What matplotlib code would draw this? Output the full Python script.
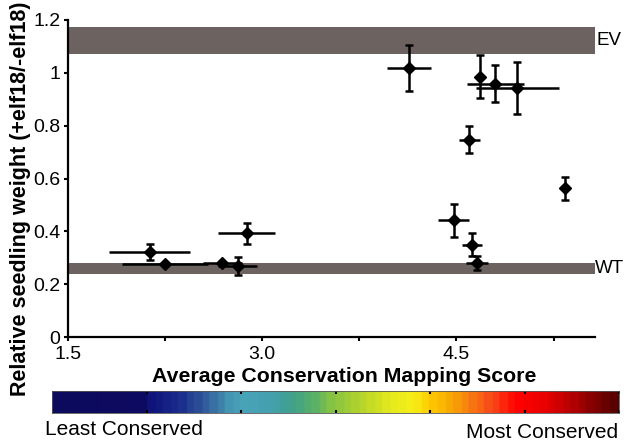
import numpy as np
import matplotlib
matplotlib.use("Agg")
import matplotlib.pyplot as plt
from matplotlib.colors import LinearSegmentedColormap, ListedColormap

plt.rcParams['font.family'] = ['Liberation Sans', 'DejaVu Sans']

# ---- data ----
cons_score = [4.13, 4.68, 4.80, 4.97, 4.60, 5.34, 4.48, 4.62, 4.66, 2.13, 2.25, 2.69, 2.81, 2.88]
rel_weight = [1.018, 0.985, 0.958, 0.943, 0.746, 0.563, 0.442, 0.350, 0.280, 0.322, 0.278, 0.279, 0.268, 0.392]
score_err = [0.17, 0.0, 0.22, 0.32, 0.08, 0.0, 0.12, 0.08, 0.085, 0.315, 0.33, 0.15, 0.15, 0.22]
weight_err = [0.086, 0.082, 0.070, 0.097, 0.051, 0.043, 0.062, 0.045, 0.025, 0.029, 0.0, 0.0, 0.035, 0.040]

ev_band = (1.07, 1.175)
wt_band = (0.24, 0.28)

xticks_major = [1.5, 3.0, 4.5]
xtick_labels = ["1.5", "3.0", "4.5"]
xticks_minor = [2.25, 3.75, 5.25]
yticks = [0, 0.2, 0.4, 0.6, 0.8, 1.0, 1.2]
ytick_labels = ["0", "0.2", "0.4", "0.6", "0.8", "1", "1.2"]

cbar_stops = [0.0, 0.16, 0.167, 0.22, 0.27, 0.31, 0.333, 0.38, 0.42, 0.46, 0.50,
              0.55, 0.60, 0.64, 0.667, 0.70, 0.74, 0.78, 0.83, 0.88, 0.93, 1.0]
cbar_colors = ['#0c0a5c', '#0e0b62', '#10137a', '#1a2d8c', '#35609e', '#4596b2', '#48a5b8',
               '#45a0b0', '#3fa08e', '#58b068', '#8cc63f', '#b8d62a', '#e5ea1c', '#f6ef1a',
               '#ffd000', '#f8b000', '#f88010', '#f84a18', '#ff0000', '#e80000', '#b00000', '#5a0000']

band_color = '#6c6361'

W, H = 629, 442
fig = plt.figure(figsize=(W / 100, H / 100), dpi=100)

ax = fig.add_axes([68 / W, 1 - 337 / H, (595 - 68) / W, (337 - 20) / H])
ax.set_xlim(1.5, 1.5 + (595 - 68) / 129.5)
ax.set_ylim(0, 1.2)

ax.axhspan(*ev_band, color=band_color, lw=0, zorder=1)
ax.axhspan(*wt_band, color=band_color, lw=0, zorder=1)
ax.text(1.0 + 2 / (595 - 68), np.mean(ev_band), "EV", transform=ax.get_yaxis_transform(),
        ha='left', va='center', fontsize=13.5)
ax.text(1.0, np.mean(wt_band), "WT", transform=ax.get_yaxis_transform(),
        ha='left', va='center', fontsize=13.5)

ax.errorbar(cons_score, rel_weight, xerr=score_err, fmt='none', ecolor='black',
            elinewidth=1.8, capsize=0, zorder=3)
ax.errorbar(cons_score, rel_weight, yerr=weight_err, fmt='D', color='black', ms=6.2,
            ecolor='black', elinewidth=1.8, capsize=2.6, capthick=1.8, zorder=4)

for s in ['top', 'right']:
    ax.spines[s].set_visible(False)
for s in ['left', 'bottom']:
    ax.spines[s].set_linewidth(1.6)

ax.set_xticks(xticks_major)
ax.set_xticklabels(xtick_labels, fontsize=14)
ax.set_xticks(xticks_minor, minor=True)
ax.set_yticks(yticks)
ax.set_yticklabels(ytick_labels, fontsize=14)
ax.tick_params(axis='both', which='both', direction='out', length=3, width=1.5, pad=2.5)
ax.tick_params(axis='x', which='both', pad=3.5)

fig.text(344 / W, 1 - 382 / H, "Average Conservation Mapping Score", ha='center',
         va='baseline', fontsize=15.3, fontweight='bold')
fig.text(20.5 / W, 1 - 199 / H, "Relative seedling weight (+elf18/-elf18)", rotation=90,
         ha='center', va='center', fontsize=15.5, fontweight='bold')

# ---- colorbar ----
base = LinearSegmentedColormap.from_list('cons', list(zip(cbar_stops, cbar_colors)))
cmap = ListedColormap(base(np.linspace(0, 1, 72)))
cax = fig.add_axes([52 / W, 1 - 413 / H, (619 - 52) / W, (413 - 391) / H])
grad = np.linspace(0, 1, 256).reshape(1, -1)
cax.imshow(grad, aspect='auto', cmap=cmap, extent=[0, 1, 0, 1])
cax.set_xlim(0, 1)
cax.set_ylim(0, 1)
cax.set_xticks([k / 6 for k in range(1, 7)])
cax.set_xticklabels([])
cax.set_yticks([])
cax.tick_params(axis='x', which='both', direction='in', length=2.5, width=1.5,
                top=True, bottom=True, color='black')
for s in cax.spines.values():
    s.set_linewidth(0.6)
    s.set_color('#555555')

fig.text(45 / W, 1 - 435 / H, "Least Conserved", ha='left', va='baseline', fontsize=15)
fig.text(618 / W, 1 - 438 / H, "Most Conserved", ha='right', va='baseline', fontsize=15)

fig.savefig("out.png", dpi=100)
